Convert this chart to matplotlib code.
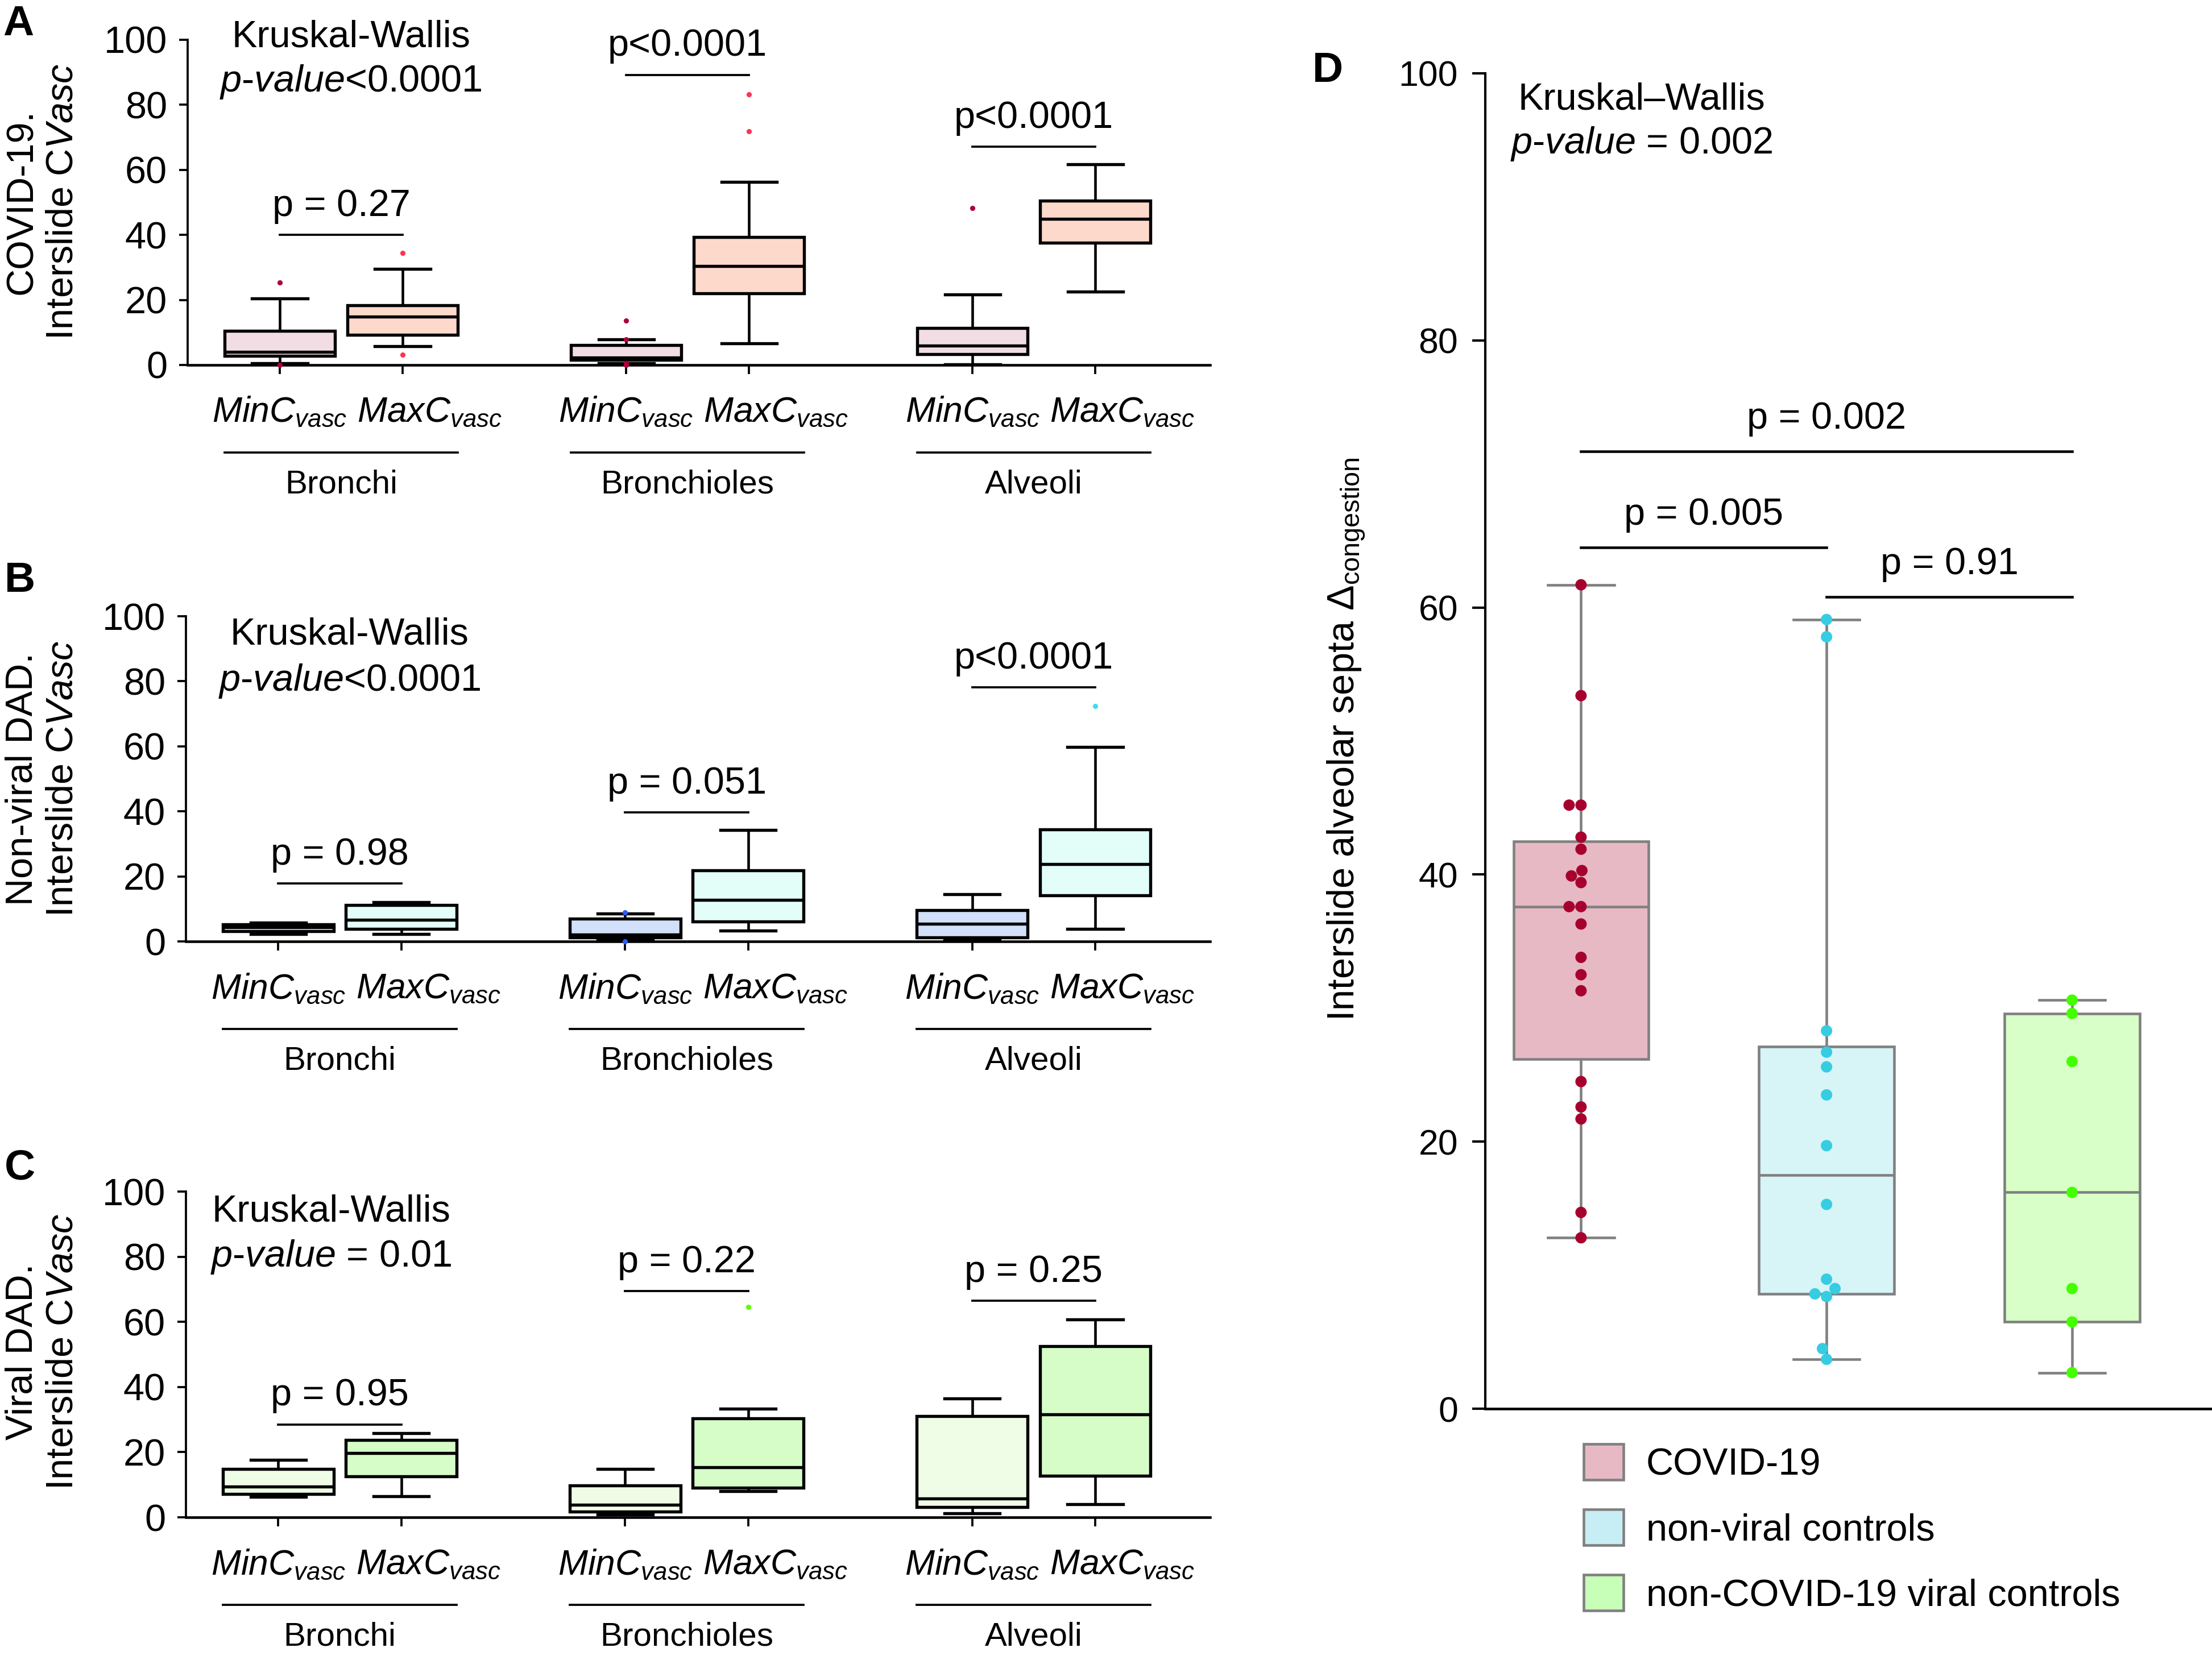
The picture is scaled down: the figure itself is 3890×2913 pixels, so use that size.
import numpy as np
import pandas as pd
import matplotlib
matplotlib.use("Agg")
import matplotlib.pyplot as plt
import seaborn as sns
from matplotlib.patches import Patch

plt.rcParams['font.family'] = ['Liberation Sans', 'DejaVu Sans']
plt.rcParams['mathtext.fontset'] = 'custom'
plt.rcParams['mathtext.rm'] = 'Liberation Sans'
plt.rcParams['mathtext.it'] = 'Liberation Sans:italic'
plt.rcParams['mathtext.bf'] = 'Liberation Sans:bold'

### data, panels A-C: box summaries
# order of boxes: Bronchi Min/Max, Bronchioles Min/Max, Alveoli Min/Max
regions = ['Bronchi', 'Bronchioles', 'Alveoli']
box_names = ['MinC', 'MaxC']

covid_whislo = [0.5, 5.7, 0.5, 6.7, 0.2, 22.5]
covid_q1 = [2.8, 9.2, 1.6, 22.1, 3.3, 37.5]
covid_med = [4.1, 14.8, 2.2, 30.4, 5.9, 45.0]
covid_q3 = [10.5, 18.3, 6.2, 39.3, 11.3, 50.6]
covid_whishi = [20.5, 29.5, 7.9, 56.3, 21.7, 61.7]
covid_fliers = [[25.4, 0.0], [34.5, 3.2], [13.7, 7.9, 0.5, 0.0], [83.3, 71.8], [48.3], []]
covid_sig = ['p = 0.27', 'p<0.0001', 'p<0.0001']
covid_sig_y = [40.0, 89.2, 67.1]

nonviral_whislo = [2.2, 2.2, 0.3, 3.4, 0.3, 3.8]
nonviral_q1 = [3.1, 3.8, 1.2, 6.1, 1.3, 14.1]
nonviral_med = [4.3, 6.7, 2.1, 12.8, 5.4, 23.8]
nonviral_q3 = [5.2, 11.2, 7.0, 21.9, 9.6, 34.4]
nonviral_whishi = [5.8, 12.0, 8.5, 34.3, 14.5, 59.8]
nonviral_fliers = [[], [], [8.9, 0.0], [], [], [72.3]]
nonviral_sig = ['p = 0.98', 'p = 0.051', 'p<0.0001']
nonviral_sig_y = [17.8, 39.7, 78.1]

viral_whislo = [6.2, 6.4, 0.8, 8.1, 1.3, 4.1]
viral_q1 = [7.1, 12.5, 1.8, 9.0, 3.1, 12.8]
viral_med = [9.5, 19.8, 3.9, 15.3, 5.7, 31.6]
viral_q3 = [14.8, 23.7, 9.8, 30.3, 31.0, 52.5]
viral_whishi = [17.6, 25.9, 14.8, 33.4, 36.4, 60.8]
viral_fliers = [[], [], [], [64.6], [], []]
viral_sig = ['p = 0.95', 'p = 0.22', 'p = 0.25']
viral_sig_y = [28.5, 69.4, 66.5]

### data, panel D: individual values
groups_d = ['COVID-19', 'non-viral controls', 'non-COVID-19 viral controls']
covid_d = [61.7, 53.4, 45.2, 45.2, 42.8, 41.9, 40.3, 39.9, 39.4, 37.6, 37.6,
           36.3, 33.8, 32.5, 31.3, 24.5, 22.6, 21.7, 14.7, 12.8]
nonviral_d = [59.1, 57.8, 28.3, 26.7, 25.6, 23.5, 19.7, 15.3, 9.7, 9.0, 8.6, 8.4, 4.5, 3.7]
viral_d = [30.6, 29.6, 26.0, 16.2, 9.0, 6.5, 2.7]
d_q1 = [26.2, 8.6, 6.5]
d_med = [37.6, 17.5, 16.2]
d_q3 = [42.5, 27.1, 29.6]
d_sig = ['p = 0.005', 'p = 0.91', 'p = 0.002']
d_sig_pairs = [(0, 1), (1, 2), (0, 2)]
d_sig_y = [64.5, 60.8, 71.7]

W, H = 3890, 2913
fig = plt.figure(figsize=(W / 300, H / 300), dpi=300)


def fx(px):
    return px / W


def fy(py):
    return 1 - py / H


positions = [0, 1, 2.82, 3.82, 5.64, 6.64]
# the MaxC labels sit a little right of their box
label_shift = [0, 0.22]


def region_panel(ax, whislo, q1, med, q3, whishi, fliers, fills, flier_cols,
                 sig, sig_y, kw_text, kw_x, kw_y, axh_px):
    stats = []
    for i in range(6):
        stats.append(dict(whislo=whislo[i], q1=q1[i], med=med[i], q3=q3[i],
                          whishi=whishi[i], fliers=fliers[i]))
    bp = ax.bxp(stats, positions=positions, widths=0.9, capwidths=0.45,
                patch_artist=True, showfliers=True,
                boxprops=dict(linewidth=1.3, edgecolor='black'),
                medianprops=dict(color='black', linewidth=1.3),
                whiskerprops=dict(color='black', linewidth=1.1),
                capprops=dict(color='black', linewidth=1.3),
                flierprops=dict(marker='o', markersize=2.2, markeredgewidth=0))
    for i, b in enumerate(bp['boxes']):
        b.set_facecolor(fills[i % 2])
    for i, f in enumerate(bp['fliers']):
        f.set_markerfacecolor(flier_cols[i % 2])
        f.set_clip_on(False)
        f.set_zorder(5)

    ax.set_xlim((330 - 492) / 216, (2128 - 492) / 216)
    ax.set_ylim(0, 100)
    ax.set_yticks([0, 20, 40, 60, 80, 100])
    ax.tick_params(axis='y', labelsize=16, length=3.6, width=0.9, pad=5)
    ax.set_xticks(positions)
    ax.set_xticklabels([])
    ax.tick_params(axis='x', length=3.8, width=0.9)
    for s in ['top', 'right']:
        ax.spines[s].set_visible(False)
    ax.spines['left'].set_linewidth(0.9)
    ax.spines['bottom'].set_linewidth(1.1)

    tr = ax.get_xaxis_transform()
    for i, p in enumerate(positions):
        ax.text(p + label_shift[i % 2], -84 / axh_px,
                r'$\mathit{%s}_{\mathit{vasc}}$' % box_names[i % 2],
                transform=tr, ha='center', va='center', fontsize=15)
    for g in range(3):
        p0, p1 = positions[2 * g], positions[2 * g + 1]
        ax.plot([p0 - 0.45, p1 + 0.45], [-154 / axh_px] * 2, transform=tr,
                color='black', lw=0.9, clip_on=False)
        ax.text((p0 + p1) / 2, -210 / axh_px, regions[g], transform=tr,
                ha='center', va='center', fontsize=14)
        ax.plot([p0, p1], [sig_y[g]] * 2, color='black', lw=0.9, clip_on=False)
        ax.annotate(sig[g], xy=((p0 + p1) / 2, sig_y[g]), xytext=(0, 8),
                    textcoords='offset points', ha='center', va='baseline',
                    fontsize=16, annotation_clip=False)

    ax.text(kw_x, kw_y[0], 'Kruskal-Wallis', ha='center', va='baseline', fontsize=16)
    ax.text(kw_x, kw_y[1], r'$\mathit{p}$-$\mathit{value}$' + kw_text,
            ha='center', va='baseline', fontsize=16)


axA = fig.add_axes([fx(330), fy(642), fx(2128) - fx(330), (642 - 70) / H])
region_panel(axA, covid_whislo, covid_q1, covid_med, covid_q3, covid_whishi,
             covid_fliers, ['#f2dde5', '#fdd9cb'], ['#b0003a', '#ff3355'],
             covid_sig, covid_sig_y, '<0.0001', 0.58, [97.9, 84.1], 572)

axB = fig.add_axes([fx(327), fy(1656), fx(2128) - fx(327), (1656 - 1084) / H])
region_panel(axB, nonviral_whislo, nonviral_q1, nonviral_med, nonviral_q3, nonviral_whishi,
             nonviral_fliers, ['#d2e1f9', '#e3fdf8'], ['#2a5cff', '#3fdcef'],
             nonviral_sig, nonviral_sig_y, '<0.0001', 0.58, [91.3, 77.1], 572)

axC = fig.add_axes([fx(327), fy(2669), fx(2128) - fx(327), (2669 - 2096) / H])
region_panel(axC, viral_whislo, viral_q1, viral_med, viral_q3, viral_whishi,
             viral_fliers, ['#effde7', '#d6fdc8'], ['#5cff00', '#5cff00'],
             viral_sig, viral_sig_y, ' = 0.01', 0.43, [90.8, 77.0], 573)

# y labels for A-C
ylab_two = r'Interslide C$\mathit{Vasc}$'
fig.text(fx(75), fy(355), 'COVID-19.\n' + ylab_two, rotation=90, ha='center',
         va='center', multialignment='center', fontsize=16)
fig.text(fx(75), fy(1370), 'Non-viral DAD.\n' + ylab_two, rotation=90, ha='center',
         va='center', multialignment='center', fontsize=16)
fig.text(fx(75), fy(2378), 'Viral DAD.\n' + ylab_two, rotation=90, ha='center',
         va='center', multialignment='center', fontsize=16)

### panel D
axD = fig.add_axes([fx(2612), fy(2478), 1 - fx(2612), (2478 - 129) / H])
box_cols = ['#e6b9c5', '#d7f4f7', '#d8ffc8']
legend_cols = ['#e6b9c5', '#c6eef4', '#c8ffb8']
point_cols = ['#a8002e', '#36cde2', '#44ff00']
values_d = [covid_d, nonviral_d, viral_d]

stats_d = []
for i in range(3):
    stats_d.append(dict(whislo=min(values_d[i]), q1=d_q1[i], med=d_med[i],
                        q3=d_q3[i], whishi=max(values_d[i]), fliers=[]))
bpd = axD.bxp(stats_d, positions=[0, 1, 2], widths=0.55, capwidths=0.27,
              patch_artist=True, showfliers=False,
              boxprops=dict(linewidth=1.1, edgecolor='#808080'),
              medianprops=dict(color='#808080', linewidth=1.1),
              whiskerprops=dict(color='#808080', linewidth=1.1),
              capprops=dict(color='#808080', linewidth=1.1))
for b, c in zip(bpd['boxes'], box_cols):
    b.set_facecolor(c)

df = pd.DataFrame({'group': np.repeat(groups_d, [len(v) for v in values_d]),
                   'value': np.concatenate(values_d)})
sns.swarmplot(data=df, x='group', y='value', hue='group', order=groups_d,
              palette=point_cols, size=4.8, linewidth=0, legend=False, ax=axD, zorder=4)

axD.set_xlim(-0.39, 2.57)
axD.set_ylim(0, 100)
axD.set_xticks([])
axD.set_xlabel('')
axD.set_yticks([0, 20, 40, 60, 80, 100])
axD.tick_params(axis='y', labelsize=15, length=5.5, width=1.0, pad=6)
for s in ['top', 'right']:
    axD.spines[s].set_visible(False)
axD.spines['left'].set_linewidth(1.0)
axD.spines['bottom'].set_linewidth(1.1)
axD.set_ylabel('')

for (a, b), t, y in zip(d_sig_pairs, d_sig, d_sig_y):
    axD.plot([a, b], [y, y], color='black', lw=1.1)
    axD.annotate(t, xy=((a + b) / 2, y), xytext=(0, 9.5), textcoords='offset points',
                 ha='center', va='baseline', fontsize=16)

axD.text(-0.257, 97.3, 'Kruskal\u2013Wallis', ha='left', va='baseline', fontsize=16)
axD.text(-0.287, 94.0, r'$\mathit{p}$-$\mathit{value}$ = 0.002', ha='left',
         va='baseline', fontsize=16)

fig.text(fx(2368), fy(1300), r'Interslide alveolar septa $\Delta_{\mathrm{congestion}}$',
         rotation=90, ha='center', va='center', fontsize=16)

handles = [Patch(facecolor=c, edgecolor='#808080', linewidth=1.1) for c in legend_cols]
fig.legend(handles, groups_d, loc='upper left', bbox_to_anchor=(fx(2785), fy(2540)),
           frameon=False, fontsize=16, borderpad=0, borderaxespad=0,
           handlelength=1.05, handleheight=1.08, handletextpad=0.6, labelspacing=0.7)

# panel letters
for letter, x, y in [('A', 32, 42), ('B', 35, 1021), ('C', 35, 2055), ('D', 2335, 125)]:
    fig.text(fx(x), fy(y), letter, fontsize=18, fontweight='bold', ha='center', va='center')

fig.savefig('out.png', dpi=300)
